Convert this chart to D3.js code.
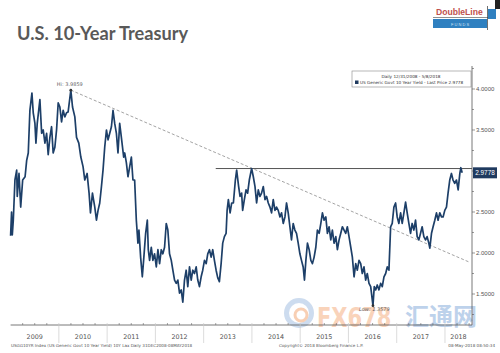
<!DOCTYPE html>
<html>
<head>
<meta charset="utf-8">
<script src="https://cdn.jsdelivr.net/npm/d3@7"></script>
<style>
  body { margin: 0; background: #fff; }
  svg { display: block; }
</style>
</head>
<body>
<svg id="chart" width="500" height="353"></svg>
<script>
// values (decimal year, yield %)
const dates = [
  2009.00, 2009.02, 2009.035, 2009.056, 2009.09, 2009.126, 2009.138, 2009.174, 2009.209, 2009.25,
  2009.30, 2009.333, 2009.366, 2009.40, 2009.442, 2009.469, 2009.504, 2009.525, 2009.552, 2009.607,
  2009.643, 2009.676, 2009.711, 2009.746, 2009.779, 2009.814, 2009.849, 2009.882, 2009.917, 2009.952,
  2009.986, 2010.021, 2010.056, 2010.089, 2010.124, 2010.159, 2010.192, 2010.248, 2010.283, 2010.331,
  2010.366, 2010.413, 2010.455, 2010.502, 2010.537, 2010.585, 2010.626, 2010.655, 2010.696, 2010.744,
  2010.779, 2010.812, 2010.847, 2010.882, 2010.915, 2010.950, 2010.986, 2011.019, 2011.054, 2011.089,
  2011.122, 2011.157, 2011.192, 2011.225, 2011.260, 2011.295, 2011.343, 2011.364, 2011.399, 2011.432,
  2011.467, 2011.502, 2011.535, 2011.570, 2011.605, 2011.638, 2011.659, 2011.694, 2011.729, 2011.756,
  2011.798, 2011.833, 2011.853, 2011.880, 2011.915, 2011.948, 2011.983, 2012.019, 2012.052, 2012.087,
  2012.122, 2012.155, 2012.190, 2012.225, 2012.258, 2012.293, 2012.329, 2012.362, 2012.397, 2012.432,
  2012.465, 2012.500, 2012.535, 2012.568, 2012.603, 2012.638, 2012.671, 2012.707, 2012.742, 2012.775,
  2012.810, 2012.845, 2012.878, 2012.913, 2012.948, 2012.981, 2013.017, 2013.052, 2013.085, 2013.120,
  2013.155, 2013.188, 2013.223, 2013.258, 2013.291, 2013.326, 2013.362, 2013.395, 2013.430, 2013.465,
  2013.486, 2013.512, 2013.548, 2013.581, 2013.616, 2013.657, 2013.684, 2013.725, 2013.754, 2013.787,
  2013.808, 2013.843, 2013.878, 2013.911, 2013.946, 2013.994, 2014.029, 2014.064, 2014.097, 2014.132,
  2014.167, 2014.200, 2014.236, 2014.271, 2014.304, 2014.339, 2014.374, 2014.407, 2014.442, 2014.477,
  2014.510, 2014.545, 2014.581, 2014.614, 2014.649, 2014.684, 2014.717, 2014.752, 2014.787, 2014.820,
  2014.855, 2014.890, 2014.924, 2014.959, 2014.994, 2015.027, 2015.062, 2015.089, 2015.118, 2015.151,
  2015.186, 2015.221, 2015.254, 2015.289, 2015.324, 2015.357, 2015.393, 2015.428, 2015.461, 2015.496,
  2015.531, 2015.564, 2015.599, 2015.634, 2015.667, 2015.702, 2015.738, 2015.771, 2015.806, 2015.841,
  2015.874, 2015.909, 2015.944, 2015.977, 2016.012, 2016.048, 2016.081, 2016.116, 2016.151, 2016.184,
  2016.219, 2016.254, 2016.287, 2016.322, 2016.357, 2016.390, 2016.426, 2016.461, 2016.508, 2016.535,
  2016.564, 2016.597, 2016.632, 2016.667, 2016.701, 2016.736, 2016.771, 2016.804, 2016.839, 2016.874,
  2016.907, 2016.942, 2016.977, 2017.010, 2017.045, 2017.081, 2017.114, 2017.149, 2017.184, 2017.217,
  2017.252, 2017.287, 2017.320, 2017.355, 2017.390, 2017.424, 2017.459, 2017.494, 2017.527, 2017.562,
  2017.597, 2017.630, 2017.665, 2017.686, 2017.721, 2017.754, 2017.789, 2017.824, 2017.857, 2017.893,
  2017.928, 2017.961, 2017.996, 2018.031, 2018.064, 2018.099, 2018.134, 2018.167, 2018.202, 2018.238,
  2018.273, 2018.308, 2018.329, 2018.356
];
const yields = [
  2.21, 2.50, 2.22, 2.40, 2.89, 3.01, 2.69, 2.97, 2.56, 2.89,
  2.93, 3.13, 3.22, 3.74, 3.95, 3.71, 3.58, 3.34, 3.58, 3.87,
  3.46, 3.50, 3.34, 3.46, 3.20, 3.41, 3.54, 3.22, 3.29, 3.50,
  3.83, 3.78, 3.60, 3.74, 3.66, 3.71, 3.72, 3.9859, 3.78, 3.66,
  3.41, 3.34, 3.17, 3.05, 2.89, 2.97, 2.73, 2.49, 2.73, 2.56,
  2.40, 2.52, 2.61, 2.81, 3.01, 3.29, 3.50, 3.38, 3.46, 3.54,
  3.74, 3.58, 3.46, 3.22, 3.58, 3.41, 3.17, 3.22, 3.10, 2.93,
  3.05, 3.17, 2.89, 2.89, 2.40, 2.12, 2.28, 1.95, 1.71, 1.91,
  2.24, 2.40, 2.04, 1.91, 2.07, 1.91, 1.99, 1.83, 2.04, 1.87,
  2.04, 1.99, 2.07, 2.36, 2.28, 1.99, 1.91, 1.79, 1.67, 1.63,
  1.67, 1.51, 1.55, 1.40, 1.67, 1.79, 1.59, 1.83, 1.67, 1.79,
  1.75, 1.83, 1.67, 1.59, 1.71, 1.79, 1.91, 1.87, 1.99, 2.04,
  1.95, 2.04, 1.91, 1.79, 1.70, 1.65, 1.87, 2.12, 2.20, 2.24,
  2.52, 2.65, 2.49, 2.61, 2.61, 2.89, 3.01, 2.81, 2.69, 2.73,
  2.52, 2.65, 2.77, 2.73, 2.89, 3.03, 2.93, 2.81, 2.61, 2.77,
  2.69, 2.73, 2.81, 2.65, 2.69, 2.61, 2.56, 2.49, 2.65, 2.52,
  2.56, 2.52, 2.44, 2.49, 2.36, 2.44, 2.61, 2.49, 2.32, 2.16,
  2.36, 2.28, 2.24, 2.12, 1.99, 1.91, 1.83, 1.67, 1.91, 2.12,
  2.04, 1.91, 1.87, 1.95, 2.07, 2.28, 2.24, 2.36, 2.49, 2.40,
  2.44, 2.24, 2.32, 2.16, 2.28, 2.12, 2.20, 2.04, 2.16, 2.24,
  2.32, 2.28, 2.24, 2.32, 2.20, 2.07, 1.95, 1.71, 1.87, 1.79,
  1.91, 1.87, 1.75, 1.83, 1.67, 1.75, 1.63, 1.59, 1.3579, 1.59,
  1.55, 1.61, 1.55, 1.63, 1.59, 1.71, 1.75, 1.83, 1.79, 2.32,
  2.36, 2.56, 2.61, 2.44, 2.36, 2.49, 2.36, 2.49, 2.62, 2.49,
  2.36, 2.24, 2.36, 2.28, 2.40, 2.20, 2.16, 2.24, 2.32, 2.20,
  2.16, 2.20, 2.12, 2.06, 2.24, 2.32, 2.40, 2.49, 2.40, 2.49,
  2.44, 2.44, 2.52, 2.56, 2.73, 2.89, 2.97, 2.89, 2.85, 2.89,
  2.77, 2.97, 3.04, 2.9778
];
const yearLabels = ["2009", "2010", "2011", "2012", "2013", "2014", "2015", "2016", "2017", "2018"];
const yTickValues = [1.5, 2.0, 2.5, 3.0, 3.5, 4.0];
const hiPoint = [2010.248, 3.9859];
const lowPoint = [2016.508, 1.3579];
const trendEnd = [2018.5, 1.89];
const resistance = { from: 2013.25, level: 3.03 };
const lastPrice = 2.9778;

const svg = d3.select("#chart");
const plot = { left: 10.6, right: 472, top: 66, bottom: 325 };

const x = d3.scaleLinear().domain([2009, 2018.56]).range([plot.left, plot.right]);
const y = d3.scaleLinear().domain([1.122, 4.256]).range([plot.bottom, 68]);

const data = dates.map((d, i) => ({ t: d, v: yields[i] }));

// title
svg.append("text")
    .attr("x", 17).attr("y", 40)
    .text("U.S. 10-Year Treasury")
    .style("font-family", "Lato, 'Open Sans', sans-serif")
    .style("font-size", "18.2px")
    .style("font-weight", "bold")
    .style("fill", "#595959");

// DoubleLine logo
const logo = svg.append("g");
logo.append("text")
    .attr("x", 436).attr("y", 15)
    .text("DoubleLine")
    .style("font-family", "'Liberation Sans', Arial, sans-serif")
    .style("font-size", "8.6px").style("font-weight", "bold")
    .style("fill", "#c0504d");
logo.append("line").attr("x1", 433).attr("x2", 490).attr("y1", 17.5).attr("y2", 17.5)
    .style("stroke", "#444").style("stroke-width", 0.6);
logo.append("rect").attr("x", 433).attr("y", 19).attr("width", 54).attr("height", 9)
    .style("fill", "#2f80c0");
logo.append("text")
    .attr("x", 460).attr("y", 25.5).attr("text-anchor", "middle")
    .text("F   U   N   D   S")
    .style("font-family", "'Liberation Sans', Arial, sans-serif")
    .style("font-size", "4px").style("fill", "#cfe3f5");
logo.append("rect").attr("x", 488).attr("y", 9).attr("width", 8).attr("height", 10)
    .style("fill", "#2f80c0");
logo.append("line").attr("x1", 487.5).attr("x2", 487.5).attr("y1", 6).attr("y2", 30)
    .style("stroke", "#333").style("stroke-width", 0.7);
logo.append("rect").attr("x", 495).attr("y", 0).attr("width", 5).attr("height", 9)
    .style("fill", "#222");

// watermark
const wm = svg.append("g").style("opacity", 0.5);
wm.append("circle").attr("cx", 299).attr("cy", 313).attr("r", 12.5)
    .style("fill", "none").style("stroke", "#9dbbe0").style("stroke-width", 5);
wm.append("circle").attr("cx", 301).attr("cy", 315).attr("r", 6)
    .style("fill", "none").style("stroke", "#f2a06a").style("stroke-width", 3);
wm.append("text")
    .attr("transform", "translate(317,327) scale(1,1.3)")
    .text("FX678")
    .style("font-family", "'DejaVu Sans', sans-serif")
    .style("font-size", "21px").style("font-weight", "bold")
    .style("fill", "#f5a878");
wm.append("text").attr("x", 405).attr("y", 325)
    .text("汇通网")
    .style("font-family", "'Noto Sans CJK SC', sans-serif")
    .style("font-size", "24px").style("font-weight", "bold")
    .style("fill", "#7ea6d8");

// legend box
svg.append("rect")
    .attr("x", 352).attr("y", 71).attr("width", 119).attr("height", 16)
    .style("fill", "#fff").style("stroke", "#888").style("stroke-width", 0.6);
svg.append("text")
    .attr("x", 411).attr("y", 77.5).attr("text-anchor", "middle")
    .text("Daily 12/31/2008 - 5/8/2018")
    .style("font-family", "'DejaVu Sans', sans-serif")
    .style("font-size", "4.2px").style("fill", "#333");
svg.append("rect").attr("x", 355).attr("y", 80.5).attr("width", 3.5).attr("height", 3.5)
    .style("fill", "#1f3a5f");
svg.append("text")
    .attr("x", 360).attr("y", 84)
    .text("US Generic Govt 10 Year Yield - Last Price " + lastPrice.toFixed(4))
    .style("font-family", "'DejaVu Sans', sans-serif")
    .style("font-size", "4.2px").style("fill", "#333");

// x axis
svg.append("line")
    .attr("x1", plot.left).attr("x2", plot.right)
    .attr("y1", plot.bottom).attr("y2", plot.bottom)
    .style("stroke", "#555").style("stroke-width", 0.8);

const quarters = d3.range(2009.25, 2018.56, 0.25).filter(q => q % 1 !== 0);
svg.selectAll(".qtick")
    .data(quarters)
    .enter()
    .append("line")
    .attr("x1", d => x(d)).attr("x2", d => x(d))
    .attr("y1", plot.bottom).attr("y2", plot.bottom - 2)
    .style("stroke", "#666").style("stroke-width", 0.6);

svg.selectAll(".ydiv")
    .data(yearLabels.slice(1))
    .enter()
    .append("line")
    .attr("x1", d => x(+d)).attr("x2", d => x(+d))
    .attr("y1", plot.bottom - 2).attr("y2", 343)
    .style("stroke", "#ccc").style("stroke-width", 0.7);

svg.selectAll(".year-label")
    .data(yearLabels)
    .enter()
    .append("text")
    .attr("x", d => x((+d + Math.min(+d + 1, 2018.56)) / 2))
    .attr("y", 339)
    .attr("text-anchor", "middle")
    .text(d => d)
    .style("font-family", "'DejaVu Sans', sans-serif")
    .style("font-size", "6.4px")
    .style("fill", "#555");

// y axis (right)
svg.append("line")
    .attr("x1", plot.right).attr("x2", plot.right)
    .attr("y1", plot.top).attr("y2", plot.bottom)
    .style("stroke", "#555").style("stroke-width", 0.8);

const minorY = d3.range(1.25, 4.26, 0.25);
svg.selectAll(".ymin")
    .data(minorY)
    .enter()
    .append("line")
    .attr("x1", plot.right).attr("x2", d => plot.right + (Math.abs(d * 2 - Math.round(d * 2)) < 0.01 ? 3 : 2))
    .attr("y1", d => y(d)).attr("y2", d => y(d))
    .style("stroke", "#555").style("stroke-width", 0.6);

// the last price tag hides the label it sits on
svg.selectAll(".ylab")
    .data(yTickValues.filter(v => Math.abs(y(v) - y(lastPrice)) > 8))
    .enter()
    .append("text")
    .attr("x", plot.right + 4)
    .attr("y", d => y(d) + 2)
    .text(d => d.toFixed(4))
    .style("font-family", "'Liberation Sans', Arial, sans-serif")
    .style("font-size", "6px")
    .style("fill", "#555");

// trend line from the high
svg.append("line")
    .attr("x1", x(hiPoint[0])).attr("y1", y(hiPoint[1]))
    .attr("x2", x(trendEnd[0])).attr("y2", y(trendEnd[1]))
    .style("stroke", "#999").style("stroke-width", 0.9)
    .style("stroke-dasharray", "3,2");

// resistance line
svg.append("line")
    .attr("x1", x(resistance.from)).attr("x2", plot.right)
    .attr("y1", y(resistance.level)).attr("y2", y(resistance.level))
    .style("stroke", "#555").style("stroke-width", 1);

// the yield line
const line = d3.line().x(d => x(d.t)).y(d => y(d.v));
svg.append("path")
    .datum(data)
    .attr("d", line)
    .style("fill", "none")
    .style("stroke", "#1d3f68")
    .style("stroke-width", 1.7)
    .style("stroke-linejoin", "round");

// hi / low markers
[hiPoint, lowPoint].forEach(p => {
    svg.append("circle").attr("cx", x(p[0])).attr("cy", y(p[1])).attr("r", 1.4)
        .style("fill", "#333");
});
svg.append("text")
    .attr("x", x(hiPoint[0]) - 14).attr("y", y(hiPoint[1]) - 4)
    .text("Hi: " + hiPoint[1].toFixed(4))
    .style("font-family", "'DejaVu Sans', sans-serif")
    .style("font-size", "5px").style("fill", "#666");
svg.append("text")
    .attr("x", x(lowPoint[0]) - 14).attr("y", y(lowPoint[1]) + 5)
    .text("Low: " + lowPoint[1].toFixed(4))
    .style("font-family", "'DejaVu Sans', sans-serif")
    .style("font-size", "5px").style("font-style", "italic").style("fill", "#666");

// last price tag
svg.append("rect")
    .attr("x", plot.right + 1).attr("y", y(lastPrice) - 5.5)
    .attr("width", 24).attr("height", 11)
    .style("fill", "#1f3a5f");
svg.append("text")
    .attr("x", plot.right + 13).attr("y", y(lastPrice) + 2.3)
    .attr("text-anchor", "middle")
    .text(lastPrice.toFixed(4))
    .style("font-family", "'Liberation Sans', Arial, sans-serif")
    .style("font-size", "6.4px").style("fill", "#fff");

// footer
const foot = [
    { x: 11, anchor: "start", t: "USGG10YR Index (US Generic Govt 10 Year Yield) 10Y Lax  Daily 31DEC2008-08MAY2018" },
    { x: 279, anchor: "start", t: "Copyright\u00a9 2018 Bloomberg Finance L.P." },
    { x: 495, anchor: "end", t: "08-May-2018 08:50:34" }
];
svg.selectAll(".foot")
    .data(foot)
    .enter()
    .append("text")
    .attr("x", d => d.x).attr("y", 347)
    .attr("text-anchor", d => d.anchor)
    .text(d => d.t)
    .style("font-family", "'DejaVu Sans', sans-serif")
    .style("font-size", "4.1px")
    .style("fill", "#555");
</script>
</body>
</html>
